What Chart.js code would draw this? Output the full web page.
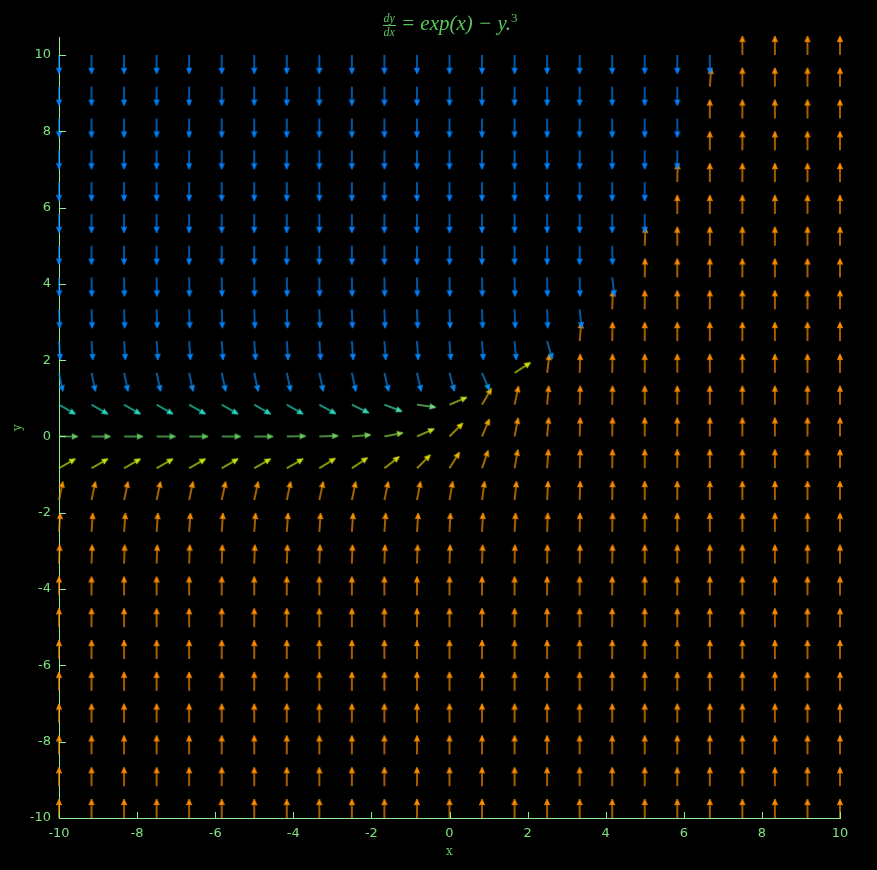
<!DOCTYPE html>
<html>
<head>
<meta charset="utf-8">
<title>Direction field</title>
<script src="https://cdn.jsdelivr.net/npm/chart.js@4.4.1/dist/chart.umd.min.js"></script>
<style>
  html, body { margin: 0; padding: 0; background: #000; }
  #wrap { position: relative; width: 877px; height: 870px; }
  #title {
    position: absolute; left: 0; top: 4px; width: 900px; text-align: center;
    font-family: "Liberation Serif", "DejaVu Serif", serif; font-style: italic;
    font-size: 21px; line-height: 28px; color: #5cc45c; white-space: nowrap;
  }
  #title .frac {
    display: inline-flex; flex-direction: column; vertical-align: middle;
    font-size: 12px; line-height: 11px; text-align: center; margin-right: 5px;
  }
  #title .frac .num { border-bottom: 1px solid #5cc45c; padding: 0 1px 1px; }
  #title .frac .den { padding-top: 1px; }
  #title sup { font-size: 13px; font-style: normal; }
</style>
</head>
<body>
<div id="wrap">
  <canvas id="field" width="877" height="870"></canvas>
  <div id="title"><span class="frac"><span class="num">dy</span><span class="den">dx</span></span>= exp(x) &minus; y.<sup>3</sup></div>
</div>
<script>
// grid of the direction field
const xValues = [-10, -9.167, -8.333, -7.5, -6.667, -5.833, -5, -4.167, -3.333, -2.5, -1.667, -0.833,
  0, 0.833, 1.667, 2.5, 3.333, 4.167, 5, 5.833, 6.667, 7.5, 8.333, 9.167, 10];
const yValues = [-10, -9.167, -8.333, -7.5, -6.667, -5.833, -5, -4.167, -3.333, -2.5, -1.667, -0.833,
  0, 0.833, 1.667, 2.5, 3.333, 4.167, 5, 5.833, 6.667, 7.5, 8.333, 9.167, 10];
const xTicks = [-10, -8, -6, -4, -2, 0, 2, 4, 6, 8, 10];
const yTicks = [-10, -8, -6, -4, -2, 0, 2, 4, 6, 8, 10];

// arrow direction in degrees, one row per y value, bottom row first
const angleRows = [
  [90,90,90,90,90,90,90,90,90,90,90,90,90,90,90,90,90,90,90,90,90,90,90,90,90],
  [90,90,90,90,90,90,90,90,90,90,90,90,90,90,90,90,90,90,90,90,90,90,90,90,90],
  [90,90,90,90,90,90,90,90,90,90,90,90,90,90,90,90,90,90,90,90,90,90,90,90,90],
  [90,90,90,90,90,90,90,90,90,90,90,90,90,90,90,90,90,90,90,90,90,90,90,90,90],
  [90,90,90,90,90,90,90,90,90,90,90,90,90,90,90,90,90,90,90,90,90,90,90,90,90],
  [90,90,90,90,90,90,90,90,90,90,90,90,90,90,90,90,90,90,90,90,90,90,90,90,90],
  [90,90,90,90,90,90,90,90,90,90,90,90,90,90,90,90,90,90,90,90,90,90,90,90,90],
  [90,90,90,90,90,90,90,90,90,90,90,90,90,90,90,90,90,90,90,90,90,90,90,90,90],
  [88,88,88,88,88,88,88,88,88,88,88,88,88,88,89,89,89,89,90,90,90,90,90,90,90],
  [86,86,86,86,86,86,86,86,86,86,86,86,87,87,87,88,89,89,90,90,90,90,90,90,90],
  [78,78,78,78,78,78,78,78,78,78,78,79,80,82,84,87,88,89,90,90,90,90,90,90,90],
  [30,30,30,30,30,30,30,30,32,34,38,45,58,71,80,86,88,89,90,90,90,90,90,90,90],
  [0,0,0,0,0,0,0,1,2,5,11,24,45,67,79,85,88,89,90,90,90,90,90,90,90],
  [-30,-30,-30,-30,-30,-30,-30,-30,-29,-26,-21,-8,23,60,78,85,88,89,90,90,90,90,90,90,90],
  [-78,-78,-78,-78,-78,-78,-78,-78,-78,-78,-77,-77,-75,-67,33,83,88,89,90,90,90,90,90,90,90],
  [-86,-86,-86,-86,-86,-86,-86,-86,-86,-86,-86,-86,-86,-86,-85,-74,85,89,90,90,90,90,90,90,90],
  [-88,-88,-88,-88,-88,-88,-88,-88,-88,-88,-88,-88,-88,-88,-88,-88,-84,88,90,90,90,90,90,90,90],
  [-89,-89,-89,-89,-89,-89,-89,-89,-89,-89,-89,-89,-89,-89,-89,-89,-89,-83,89,90,90,90,90,90,90],
  [-90,-90,-90,-90,-90,-90,-90,-90,-90,-90,-90,-90,-90,-90,-90,-90,-90,-89,88,90,90,90,90,90,90],
  [-90,-90,-90,-90,-90,-90,-90,-90,-90,-90,-90,-90,-90,-90,-90,-90,-90,-90,-90,90,90,90,90,90,90],
  [-90,-90,-90,-90,-90,-90,-90,-90,-90,-90,-90,-90,-90,-90,-90,-90,-90,-90,-90,89,90,90,90,90,90],
  [-90,-90,-90,-90,-90,-90,-90,-90,-90,-90,-90,-90,-90,-90,-90,-90,-90,-90,-90,-90,90,90,90,90,90],
  [-90,-90,-90,-90,-90,-90,-90,-90,-90,-90,-90,-90,-90,-90,-90,-90,-90,-90,-90,-90,90,90,90,90,90],
  [-90,-90,-90,-90,-90,-90,-90,-90,-90,-90,-90,-90,-90,-90,-90,-90,-90,-90,-90,-90,86,90,90,90,90],
  [-90,-90,-90,-90,-90,-90,-90,-90,-90,-90,-90,-90,-90,-90,-90,-90,-90,-90,-90,-90,-90,90,90,90,90]
];

const AXIS_COLOR = '#8ff08f';
const LABEL_COLOR = '#80e080';
const ARROW_LEN = 19;

// colour by arrow angle, blue (down) -> green (flat) -> orange (up)
const colorStops = [
  [-90, [0, 130, 255]], [-72, [10, 142, 240]], [-50, [0, 190, 225]], [-30, [35, 220, 195]],
  [-10, [120, 228, 135]], [0, [100, 205, 100]], [15, [165, 222, 60]], [30, [205, 232, 15]],
  [45, [228, 212, 0]], [60, [235, 178, 0]], [75, [248, 152, 0]], [90, [255, 142, 0]]
];

function angleColor(a) {
  for (let k = 1; k < colorStops.length; k++) {
    if (a <= colorStops[k][0]) {
      const [a0, c0] = colorStops[k - 1];
      const [a1, c1] = colorStops[k];
      const t = (a - a0) / (a1 - a0);
      const c = c0.map((v, n) => Math.round(v + (c1[n] - v) * t));
      return 'rgb(' + c.join(',') + ')';
    }
  }
  return 'rgb(255,142,0)';
}

const arrowCache = {};
function arrowImage(color) {
  if (arrowCache[color]) return arrowCache[color];
  const size = 2 * ARROW_LEN + 8;
  const c = size / 2;
  const cv = document.createElement('canvas');
  cv.width = size;
  cv.height = size;
  const g = cv.getContext('2d');
  g.strokeStyle = color;
  g.fillStyle = color;
  g.lineWidth = 1.3;
  g.beginPath();
  g.moveTo(c, c);
  g.lineTo(c + ARROW_LEN - 3, c);
  g.stroke();
  g.lineWidth = 0.8;
  g.beginPath();
  g.moveTo(c + ARROW_LEN, c);
  g.lineTo(c + ARROW_LEN - 6, c - 2.6);
  g.lineTo(c + ARROW_LEN - 5, c);
  g.lineTo(c + ARROW_LEN - 6, c + 2.6);
  g.closePath();
  g.fill();
  g.stroke();
  arrowCache[color] = cv;
  return cv;
}

const points = [];
yValues.forEach(function (y, j) {
  xValues.forEach(function (x, i) {
    points.push({ x: x, y: y, a: angleRows[j][i] });
  });
});

const innerTicks = {
  id: 'innerTicks',
  afterDraw(chart) {
    const { ctx, chartArea, scales } = chart;
    ctx.save();
    ctx.strokeStyle = AXIS_COLOR;
    ctx.lineWidth = 1;
    ctx.beginPath();
    xTicks.forEach(function (v) {
      const px = Math.round(scales.x.getPixelForValue(v)) + 0.5;
      ctx.moveTo(px, chartArea.bottom);
      ctx.lineTo(px, chartArea.bottom - 6);
    });
    yTicks.forEach(function (v) {
      const py = Math.round(scales.y.getPixelForValue(v)) + 0.5;
      ctx.moveTo(chartArea.left, py);
      ctx.lineTo(chartArea.left + 7, py);
    });
    ctx.stroke();
    ctx.restore();
  }
};

new Chart(document.getElementById('field'), {
  type: 'scatter',
  data: {
    datasets: [{
      data: points,
      pointRadius: 3,
      pointStyle: function (ctx) {
        const p = ctx.raw;
        return arrowImage(angleColor(p ? p.a : 0));
      },
      rotation: function (ctx) {
        return ctx.raw ? -ctx.raw.a : 0;
      },
      clip: false
    }]
  },
  options: {
    responsive: false,
    animation: false,
    events: [],
    layout: { padding: { left: 0, right: 37, top: 37, bottom: 0 } },
    plugins: {
      legend: { display: false },
      tooltip: { enabled: false },
      title: { display: false }
    },
    scales: {
      x: {
        type: 'linear',
        min: -10,
        max: 10,
        grid: { display: false },
        border: { display: true, color: AXIS_COLOR, width: 1 },
        ticks: { color: LABEL_COLOR, padding: 0, font: { family: 'DejaVu Sans', size: 13 } },
        afterBuildTicks: function (s) { s.ticks = xTicks.map(v => ({ value: v })); },
        afterFit: function (s) { s.height = 52; },
        title: {
          display: true, text: 'x', color: '#5cc45c',
          font: { family: 'DejaVu Serif', size: 12 }, padding: { top: 0, bottom: 11 }
        }
      },
      y: {
        type: 'linear',
        min: -10,
        max: 10.47,
        grid: { display: false },
        border: { display: true, color: AXIS_COLOR, width: 1 },
        ticks: { color: LABEL_COLOR, padding: 0, font: { family: 'DejaVu Sans', size: 13 } },
        afterBuildTicks: function (s) { s.ticks = yTicks.map(v => ({ value: v })); },
        afterFit: function (s) { s.width = 59; },
        title: {
          display: true, text: 'y', color: '#5cc45c',
          font: { family: 'DejaVu Serif', size: 12 }, padding: { top: 11, bottom: 0 }
        }
      }
    }
  },
  plugins: [innerTicks]
});
</script>
</body>
</html>
